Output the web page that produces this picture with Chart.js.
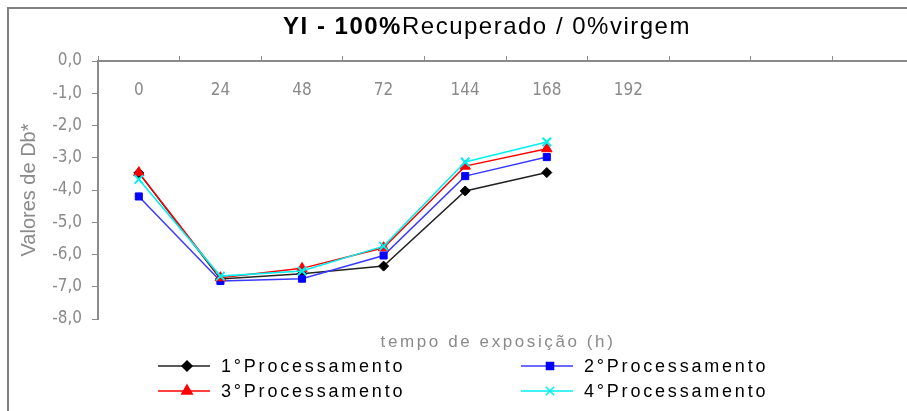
<!DOCTYPE html>
<html>
<head>
<meta charset="utf-8">
<script src="https://cdn.jsdelivr.net/npm/chart.js@4.4.1/dist/chart.umd.min.js"></script>
<style>
    html, body { margin: 0; padding: 0; background: #fff; overflow: hidden; }
    body { width: 907px; height: 411px; position: relative; }
    #frame {
        position: absolute; left: 7px; top: 7px; width: 960px; height: 460px;
        border-left: 2px solid #808080; border-top: 2px solid #808080;
    }
    #title {
        position: absolute; left: 0; top: 12px; width: 974px; text-align: center;
        font-family: "Liberation Sans", Arial, sans-serif; font-size: 24px;
        letter-spacing: 1.5px; color: #000;
    }
    #title b { font-weight: bold; }
    #wrap { position: absolute; left: 0; top: 0; }
</style>
</head>
<body>
<div id="frame"></div>
<div id="wrap"><canvas id="chartCanvas" width="930" height="411"></canvas></div>
<div id="title"><b>YI - 100%</b>Recuperado / 0%virgem</div>
<script>
// categories (hours of exposure) - the last three slots are empty in the original
const categories = ['0', '24', '48', '72', '144', '168', '192', '', '', ''];

// Db* values per processing cycle
const proc1 = [-3.47, -6.76, -6.60, -6.36, -4.03, -3.46];
const proc2 = [-4.20, -6.82, -6.75, -6.03, -3.57, -2.98];
const proc3 = [-3.46, -6.72, -6.43, -5.79, -3.26, -2.72];
const proc4 = [-3.67, -6.67, -6.51, -5.74, -3.13, -2.51];

const seriesNames = ['1°Processamento', '2°Processamento', '3°Processamento', '4°Processamento'];

const yTicks = [0, -1, -2, -3, -4, -5, -6, -7, -8];

const gray = '#8a8a8a';
const narrowFont = '"Liberation Sans Narrow", "DejaVu Sans Condensed", Arial, sans-serif';
const labelFont = '"Liberation Sans", Arial, sans-serif';

/**
 * Legend and x axis caption, drawn below the plot like the Excel original.
 */
const bottomTextPlugin = {
    id: 'bottomText',
    afterDraw(chart) {
        const ctx = chart.ctx;
        ctx.save();
        ctx.fillStyle = gray;
        ctx.font = '17px ' + labelFont;
        ctx.letterSpacing = '2.6px';
        ctx.textAlign = 'center';
        ctx.textBaseline = 'middle';
        ctx.fillText('tempo de exposição (h)', 498, 342);

        const cols = [158, 521];
        const rows = [366, 391];
        ctx.font = '18px ' + labelFont;
        ctx.letterSpacing = '2.8px';
        ctx.textAlign = 'left';
        chart.data.datasets.forEach((ds, i) => {
            const x = cols[i % 2];
            const y = rows[Math.floor(i / 2)];
            ctx.strokeStyle = ds.borderColor;
            ctx.lineWidth = 1.5;
            ctx.beginPath();
            ctx.moveTo(x, y);
            ctx.lineTo(x + 52, y);
            ctx.stroke();
            ctx.fillStyle = ds.pointBackgroundColor;
            ctx.strokeStyle = ds.pointBorderColor;
            Chart.helpers.drawPoint(ctx, {
                pointStyle: ds.pointStyle,
                radius: ds.pointRadius,
                rotation: 0,
                borderWidth: ds.pointBorderWidth
            }, x + 29, y);
            ctx.fillStyle = '#000';
            ctx.fillText(ds.label, x + 63, y + 1);
        });
        ctx.restore();
    }
};

function makeDataset(label, data, color, lineColor, style, radius, order) {
    return {
        label: label,
        data: data,
        borderColor: lineColor,
        borderWidth: 1.5,
        pointStyle: style,
        pointRadius: radius,
        pointHoverRadius: radius,
        pointBackgroundColor: color,
        pointBorderColor: color,
        pointBorderWidth: style === 'crossRot' ? 2 : 1,
        tension: 0,
        order: order
    };
}

const chartConfig = {
    type: 'line',
    data: {
        labels: categories,
        datasets: [
            makeDataset(seriesNames[0], proc1, '#000000', '#222222', 'rectRot', 5, 4),
            makeDataset(seriesNames[1], proc2, '#0000ff', '#3a3aff', 'rect', 5, 3),
            makeDataset(seriesNames[2], proc3, '#ff0000', '#ff0000', 'triangle', 6, 2),
            makeDataset(seriesNames[3], proc4, '#00f0f0', '#00f0f0', 'crossRot', 6, 1)
        ]
    },
    options: {
        responsive: false,
        animation: false,
        layout: {
            padding: { left: 0, top: 61, right: 16, bottom: 92 }
        },
        plugins: {
            legend: { display: false },
            title: { display: false },
            tooltip: { enabled: false }
        },
        scales: {
            // axis line with the small upward tick marks at the top of the plot
            x: {
                type: 'category',
                position: 'top',
                offset: true,
                afterFit: scale => { scale.height = 0; },
                grid: {
                    offset: true,
                    drawOnChartArea: false,
                    drawTicks: true,
                    tickLength: 5,
                    color: gray
                },
                border: { color: gray, width: 2 },
                ticks: { display: false }
            },
            // category labels sit just under the zero line
            xLabels: {
                type: 'category',
                labels: categories,
                position: { y: 0 },
                offset: true,
                afterFit: scale => { scale.height = 0; },
                grid: { display: false, drawTicks: false },
                border: { display: false },
                ticks: {
                    color: gray,
                    padding: 19,
                    maxRotation: 0,
                    autoSkip: false,
                    font: { family: narrowFont, size: 17 }
                }
            },
            y: {
                min: -8,
                max: 0,
                afterFit: scale => { scale.width = 98; },
                afterBuildTicks: scale => {
                    scale.ticks = yTicks.map(v => ({ value: v }));
                },
                grid: {
                    drawOnChartArea: false,
                    drawTicks: true,
                    tickLength: 6,
                    color: gray
                },
                border: { color: gray, width: 2 },
                ticks: {
                    color: gray,
                    padding: 10,
                    font: { family: narrowFont, size: 17 },
                    callback: v => v.toFixed(1).replace('.', ',').replace('-0,0', '0,0')
                },
                title: {
                    display: true,
                    text: 'Valores de Db*',
                    color: gray,
                    padding: { top: 17, bottom: 0 },
                    font: { family: labelFont, size: 20 }
                }
            }
        }
    },
    plugins: [bottomTextPlugin]
};

const ctx = document.getElementById('chartCanvas').getContext('2d');
new Chart(ctx, chartConfig);
</script>
</body>
</html>
